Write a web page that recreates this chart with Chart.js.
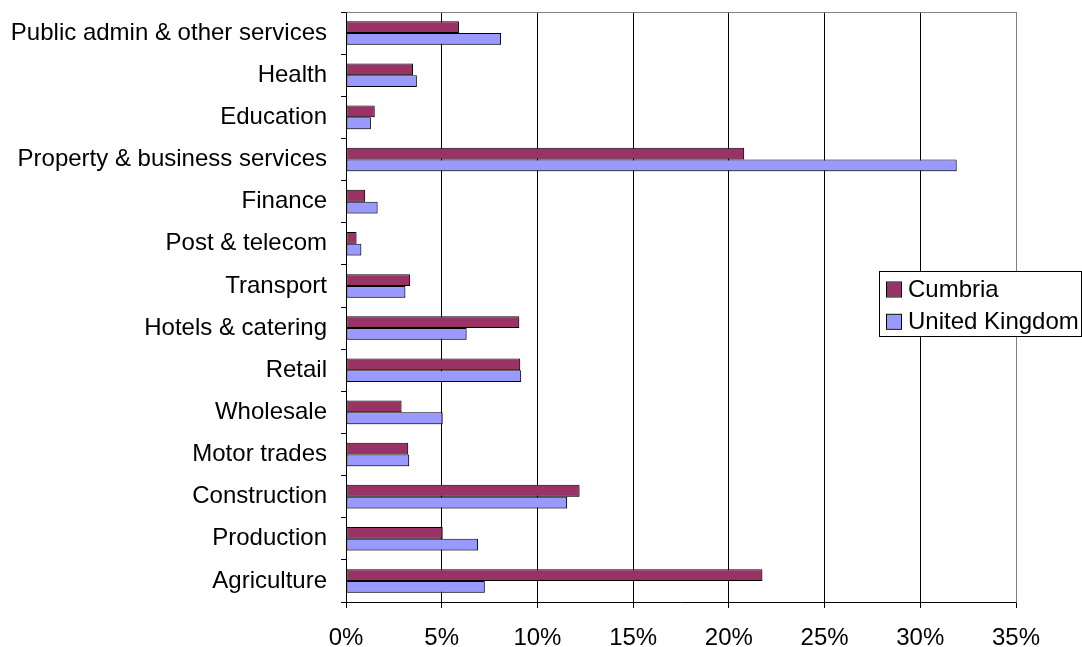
<!DOCTYPE html>
<html>
<head>
<meta charset="utf-8">
<title>Employment by sector: Cumbria vs United Kingdom</title>
<script src="https://cdn.jsdelivr.net/npm/chart.js@4/dist/chart.umd.min.js"></script>
<style>
  html, body { margin: 0; padding: 0; background: #ffffff; }
  #wrap { width: 1082px; height: 647px; }
</style>
</head>
<body>
<div id="wrap"><canvas id="c" width="1082" height="647"></canvas></div>
<script>
// Sectors, listed top to bottom
const sectors = [
  'Public admin & other services',
  'Health',
  'Education',
  'Property & business services',
  'Finance',
  'Post & telecom',
  'Transport',
  'Hotels & catering',
  'Retail',
  'Wholesale',
  'Motor trades',
  'Construction',
  'Production',
  'Agriculture'
];

// Share of businesses (%) in each sector
const cumbria = [5.9, 3.5, 1.5, 20.8, 1.0, 0.55, 3.35, 9.05, 9.1, 2.9, 3.25, 12.2, 5.05, 21.75];
const unitedKingdom = [8.1, 3.7, 1.3, 31.9, 1.65, 0.8, 3.1, 6.3, 9.15, 5.05, 3.3, 11.55, 6.9, 7.25];

// Value-axis ticks
const xTicks = [0, 5, 10, 15, 20, 25, 30, 35];

const seriesNames = ['Cumbria', 'United Kingdom'];
const seriesColors = ['#993366', '#9999FF'];

const FONT = "'Liberation Sans', Arial, sans-serif";
const FS = 24;

// Grey frame along the top and right of the plot area
const plotFrame = {
  id: 'plotFrame',
  afterDatasetsDraw(chart) {
    const { ctx, chartArea: a } = chart;
    ctx.save();
    ctx.strokeStyle = '#808080';
    ctx.lineWidth = 1;
    ctx.beginPath();
    ctx.moveTo(Math.round(a.left) + 0.5, Math.round(a.top) + 0.5);
    ctx.lineTo(Math.round(a.right) + 0.5, Math.round(a.top) + 0.5);
    ctx.lineTo(Math.round(a.right) + 0.5, Math.round(a.bottom) + 0.5);
    ctx.stroke();
    ctx.restore();
  }
};

// Soft drop shadow behind the bars
const barShadow = {
  id: 'barShadow',
  beforeDatasetsDraw(chart) {
    const ctx = chart.ctx;
    ctx.save();
    ctx.shadowColor = 'rgba(0,0,0,0.28)';
    ctx.shadowOffsetX = 1.5;
    ctx.shadowOffsetY = 1.5;
    ctx.shadowBlur = 0;
  },
  afterDatasetsDraw(chart) {
    chart.ctx.restore();
  }
};

// Boxed legend sitting at the right of the plot
const boxLegend = {
  id: 'boxLegend',
  afterDraw(chart) {
    const { ctx } = chart;
    const bx = 879.5, by = 271.5, bw = 202, bh = 65;
    ctx.save();
    ctx.fillStyle = '#ffffff';
    ctx.fillRect(bx, by, bw, bh);
    ctx.strokeStyle = '#000000';
    ctx.lineWidth = 1;
    ctx.strokeRect(bx, by, bw, bh);
    ctx.font = FS + 'px ' + FONT;
    ctx.textBaseline = 'middle';
    ctx.textAlign = 'left';
    chart.data.datasets.forEach((ds, i) => {
      const cy = 289.5 + i * 32.3;
      ctx.fillStyle = ds.backgroundColor;
      ctx.fillRect(887, cy - 7, 14, 14);
      ctx.strokeStyle = '#000000';
      ctx.strokeRect(886.5, cy - 7.5, 15, 15);
      ctx.fillStyle = '#000000';
      ctx.fillText(ds.label, 908, cy + 1);
    });
    ctx.restore();
  }
};

new Chart(document.getElementById('c'), {
  type: 'bar',
  data: {
    labels: sectors,
    datasets: [
      {
        label: seriesNames[0],
        data: cumbria,
        backgroundColor: seriesColors[0],
        borderColor: '#000000',
        borderWidth: 1,
        borderSkipped: false,
        categoryPercentage: 0.56,
        barPercentage: 1.0
      },
      {
        label: seriesNames[1],
        data: unitedKingdom,
        backgroundColor: seriesColors[1],
        borderColor: '#000000',
        borderWidth: 1,
        borderSkipped: false,
        categoryPercentage: 0.56,
        barPercentage: 1.0
      }
    ]
  },
  options: {
    indexAxis: 'y',
    responsive: false,
    animation: false,
    devicePixelRatio: 1,
    layout: { padding: { top: 12, right: 66, left: 0, bottom: 0 } },
    plugins: {
      legend: { display: false },
      tooltip: { enabled: false }
    },
    scales: {
      x: {
        type: 'linear',
        min: 0,
        max: 35,
        afterBuildTicks(scale) {
          scale.ticks = xTicks.map(v => ({ value: v }));
        },
        afterFit(scale) {
          scale.height = 45;
          scale.paddingLeft = 0;
          scale.paddingRight = 0;
        },
        ticks: {
          color: '#000000',
          font: { family: FONT, size: FS },
          padding: 16,
          maxRotation: 0,
          callback: v => v + '%'
        },
        grid: {
          color: ctx => (ctx.index === xTicks.length - 1 ? '#808080' : '#000000'),
          lineWidth: 1,
          drawTicks: true,
          tickLength: 6,
          tickColor: '#000000'
        },
        border: { display: true, color: '#000000', width: 1 }
      },
      y: {
        type: 'category',
        offset: true,
        afterFit(scale) {
          scale.width = 346;
          scale.paddingTop = 0;
          scale.paddingBottom = 0;
        },
        ticks: {
          color: '#000000',
          font: { family: FONT, size: FS },
          padding: 14,
          autoSkip: false
        },
        grid: {
          offset: true,
          drawOnChartArea: false,
          drawTicks: true,
          tickLength: 5,
          color: '#000000'
        },
        border: { display: true, color: '#000000', width: 1 }
      }
    }
  },
  plugins: [barShadow, plotFrame, boxLegend]
});
</script>
</body>
</html>
